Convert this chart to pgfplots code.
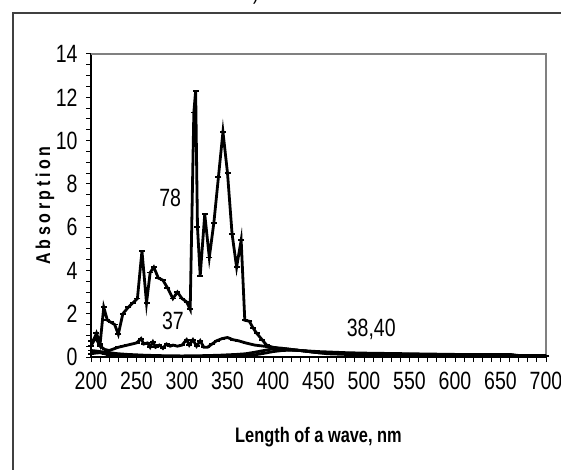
\documentclass[border=0pt]{standalone}
\usepackage{fontspec}
\setmainfont{Liberation Sans}[FakeStretch=0.78]
\newfontfamily\spacedfont{Liberation Sans}[FakeStretch=0.8, LetterSpace=18]
\usepackage{pgfplots}
\pgfplotsset{compat=1.18}

\begin{document}
\begin{tikzpicture}[x=1pt,y=1pt]
\useasboundingbox (0,0) rectangle (561,469);
% outer chart frame (only left and top visible)
\draw[line width=1.8pt, black!75] (13,-5) -- (13,456) -- (570,456);
\node[anchor=base, font=\fontsize{23}{23}\selectfont] at (256,469) {)};
\begin{axis}[
  at={(91pt,112pt)}, anchor=south west,
  scale only axis, width=455pt, height=303pt,
  xmin=200, xmax=700, ymin=0, ymax=14,
  axis x line*=bottom, axis y line*=left,
  axis line style={line width=1.2pt, black},
  xtick={200,250,...,700}, ytick={0,2,...,14},
  minor x tick num=4, minor y tick num=3,
  tick align=outside, major tick length=5pt, minor tick length=5pt,
  tick style={line width=1pt, black},
  ticklabel style={font=\fontsize{25}{25}\selectfont},
  yticklabel style={xshift=-5pt},
  xticklabel style={yshift=-7pt},
  /pgf/number format/assume math mode=true,
  xlabel={Length of a wave, nm},
  ylabel={Absorption},
  xlabel style={font=\fontsize{21}{21}\selectfont\bfseries,
    at={(axis description cs:0.5,-0.264)}, anchor=center},
  ylabel style={font=\fontsize{20}{20}\selectfont\spacedfont\bfseries,
    at={(axis description cs:-0.101,0.5)}, anchor=center},
  clip=false,
  curve/.style={black, solid, line width=2.8pt, mark=-,
    mark size=3pt, mark options={line width=1.8pt, solid, black}},
]
\draw[gray, line width=1.2pt] (rel axis cs:0,1) -- (rel axis cs:1,1) -- (rel axis cs:1,0);

% 78
\addplot[curve] coordinates {
(200,0.75) (203,0.8) (206,1.1) (210,0.6) (214,2.3) (218,1.7) (222,1.6)
(226,1.5) (230,1.05) (235,2.0) (241,2.3) (246,2.5) (251,2.7) (256,4.9)
(261,2.5) (265,3.9) (269,4.15) (274,3.65) (279,3.55) (284,3.2) (290,2.7)
(295,3.0) (300,2.7) (305,2.55) (309,2.2) (313,11.3) (315,12.3) (317,6.0)
(320,3.75) (325,6.6) (330,4.6) (335,6.2) (340,8.3) (345,10.4) (350,8.5)
(355,5.7) (360,4.15) (365,5.4) (369,1.7) (374,1.65) (378,1.35) (382,1.1)
(388,0.8) (393,0.55) (399,0.45) (405,0.4) (410,0.35) (420,0.32) (430,0.3)
(440,0.25) (450,0.2) (470,0.18) (500,0.15) (550,0.12) (600,0.12) (660,0.1)
(670,0.05) (700,0.05)
};
% 37
\addplot[curve] coordinates {
(200,0.5) (205,0.9) (210,0.5) (215,0.35) (220,0.3) (230,0.45) (235,0.5)
(240,0.55) (245,0.6) (250,0.65) (255,0.85) (258,0.6) (262,0.65) (265,0.45)
(268,0.7) (271,0.45) (275,0.55) (279,0.4) (283,0.6) (287,0.5) (290,0.55)
(295,0.5) (300,0.55) (305,0.8) (308,0.55) (312,0.8) (316,0.5) (320,0.75)
(324,0.45) (328,0.45) (333,0.6) (338,0.75) (344,0.85) (350,0.9) (356,0.8)
(362,0.75) (370,0.65) (380,0.55) (390,0.5) (400,0.45) (410,0.4) (420,0.35)
(430,0.3) (450,0.25) (480,0.2) (500,0.18) (550,0.15) (600,0.12) (660,0.12)
(670,0.07) (700,0.07)
};
% 38
\addplot[curve] coordinates {
(200,0.3) (205,0.28) (210,0.25) (220,0.2) (230,0.15) (240,0.12) (250,0.1)
(260,0.08) (280,0.06) (300,0.05) (320,0.06) (340,0.08) (360,0.12) (370,0.15)
(380,0.22) (390,0.3) (400,0.38) (410,0.4) (420,0.35) (430,0.3) (440,0.25)
(450,0.2) (465,0.17) (480,0.15) (500,0.12) (550,0.1) (600,0.1) (660,0.1)
(670,0.05) (700,0.05)
};
% 40
\addplot[curve] coordinates {
(200,0.15) (205,0.18) (210,0.2) (215,0.15) (220,0.1) (235,0.07) (250,0.05)
(275,0.03) (300,0.02) (325,0.03) (350,0.05) (365,0.07) (380,0.1) (390,0.17)
(400,0.25) (410,0.3) (420,0.32) (430,0.3) (440,0.25) (450,0.2) (460,0.15)
(480,0.12) (500,0.1) (550,0.08) (600,0.08) (660,0.07) (670,0.04) (700,0.04)
};

\node[font=\fontsize{25}{25}\selectfont] at (axis cs:287,7.35) {78};
\node[font=\fontsize{25}{25}\selectfont] at (axis cs:290,1.66) {37};
\node[font=\fontsize{25}{25}\selectfont] at (axis cs:508,1.29) {38,40};
\end{axis}
\end{tikzpicture}
\end{document}
